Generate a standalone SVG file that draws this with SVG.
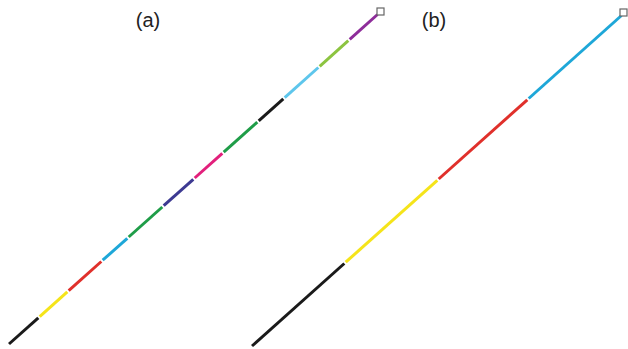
<svg xmlns="http://www.w3.org/2000/svg" width="628" height="349" viewBox="0 0 628 349">
<style>
.seg{stroke-width:3;stroke-linecap:butt;fill:none}
.lbl{font-family:"Liberation Sans",Arial,sans-serif;font-size:20px;fill:#222;text-anchor:middle}
.end{fill:#fff;stroke:#666;stroke-width:1.2}
</style>
<rect width="628" height="349" fill="#fff"/>
<g id="label-a"><text class="lbl" x="148" y="27">(a)</text></g>
<g id="label-b"><text class="lbl" x="434" y="27">(b)</text></g>
<g id="connectors">
<g id="line-a">
<line class="seg" stroke="#1a1a1a" x1="9" y1="344" x2="38.3" y2="317.8"/>
<line class="seg" stroke="#f5e41a" x1="39.7" y1="316.6" x2="67.3" y2="291.9"/>
<line class="seg" stroke="#e0302b" x1="68.7" y1="290.6" x2="101.3" y2="261.5"/>
<line class="seg" stroke="#1ea7d8" x1="102.7" y1="260.2" x2="127.3" y2="238.3"/>
<line class="seg" stroke="#1f9d48" x1="128.7" y1="237.0" x2="162.3" y2="207.0"/>
<line class="seg" stroke="#3d3a92" x1="163.7" y1="205.7" x2="193.3" y2="179.3"/>
<line class="seg" stroke="#e2207c" x1="194.7" y1="178.0" x2="222.3" y2="153.4"/>
<line class="seg" stroke="#1f9d48" x1="223.7" y1="152.1" x2="257.3" y2="122.1"/>
<line class="seg" stroke="#1a1a1a" x1="258.7" y1="120.8" x2="283.3" y2="98.8"/>
<line class="seg" stroke="#5ec6ec" x1="284.7" y1="97.6" x2="318.3" y2="67.5"/>
<line class="seg" stroke="#8cc440" x1="319.7" y1="66.3" x2="348.3" y2="40.7"/>
<line class="seg" stroke="#8e2d9a" x1="349.7" y1="39.4" x2="377.5" y2="14.5"/>
</g>
<g id="line-b">
<line class="seg" stroke="#1a1a1a" x1="252" y1="346" x2="344.3" y2="263.5"/>
<line class="seg" stroke="#f5e41a" x1="345.7" y1="262.2" x2="437.3" y2="180.3"/>
<line class="seg" stroke="#e0302b" x1="438.7" y1="179.0" x2="527.3" y2="99.8"/>
<line class="seg" stroke="#1ea7d8" x1="528.7" y1="98.5" x2="621.5" y2="15.5"/>
</g>
</g>
<g id="end-a"><rect class="end" x="377" y="8" width="7" height="7"/></g>
<g id="end-b"><rect class="end" x="620" y="9" width="7" height="7"/></g>
</svg>
